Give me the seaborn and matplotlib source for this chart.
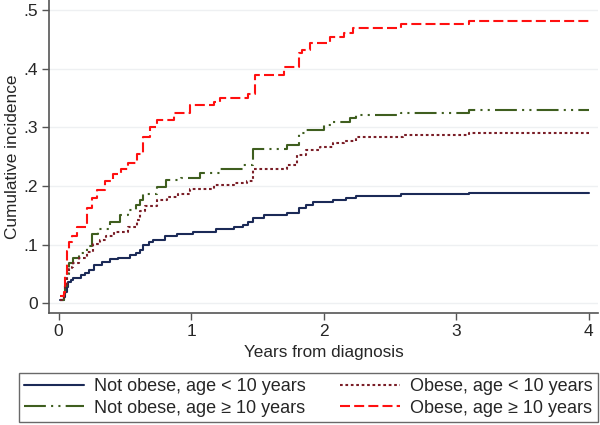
import pandas as pd
import matplotlib.pyplot as plt
import seaborn as sns

# Cumulative incidence step curves (time in years, value)
groups = ["Not obese, age < 10 years", "Not obese, age \u2265 10 years",
          "Obese, age < 10 years", "Obese, age \u2265 10 years"]

navy_t = [0.01, 0.04, 0.05, 0.06, 0.07, 0.09, 0.11, 0.17, 0.20, 0.23, 0.27, 0.33, 0.39, 0.45,
          0.54, 0.58, 0.61, 0.64, 0.68, 0.71, 0.80, 0.89, 1.01, 1.19, 1.32, 1.39, 1.43, 1.47,
          1.55, 1.72, 1.81, 1.87, 1.92, 2.07, 2.17, 2.24, 2.58, 3.10, 4.00]
navy_v = [0.005, 0.010, 0.020, 0.028, 0.036, 0.040, 0.043, 0.048, 0.052, 0.057, 0.065, 0.070, 0.075, 0.078,
          0.082, 0.086, 0.091, 0.099, 0.104, 0.108, 0.115, 0.119, 0.122, 0.127, 0.130, 0.134, 0.139, 0.145,
          0.150, 0.154, 0.162, 0.168, 0.172, 0.176, 0.180, 0.183, 0.186, 0.189, 0.189]

green_t = [0.01, 0.04, 0.05, 0.06, 0.08, 0.11, 0.15, 0.21, 0.25, 0.30, 0.39, 0.46, 0.52, 0.58,
           0.61, 0.64, 0.74, 0.81, 0.92, 1.07, 1.22, 1.39, 1.47, 1.72, 1.81, 1.87, 2.00, 2.07,
           2.20, 2.24, 2.58, 3.10, 4.00]
green_v = [0.005, 0.015, 0.030, 0.050, 0.068, 0.078, 0.086, 0.097, 0.118, 0.127, 0.139, 0.150, 0.160, 0.168,
           0.176, 0.187, 0.199, 0.210, 0.214, 0.222, 0.230, 0.236, 0.264, 0.270, 0.290, 0.296, 0.304, 0.310,
           0.317, 0.321, 0.325, 0.330, 0.330]

maroon_t = [0.01, 0.04, 0.05, 0.06, 0.08, 0.10, 0.11, 0.15, 0.21, 0.26, 0.31, 0.36, 0.42, 0.52,
            0.59, 0.61, 0.65, 0.74, 0.82, 0.90, 0.99, 1.17, 1.32, 1.42, 1.47, 1.72, 1.80, 1.87,
            1.97, 2.07, 2.15, 2.24, 2.60, 3.10, 4.00]
maroon_v = [0.005, 0.012, 0.030, 0.051, 0.058, 0.062, 0.069, 0.078, 0.088, 0.102, 0.108, 0.114, 0.122, 0.130,
            0.142, 0.157, 0.166, 0.176, 0.182, 0.187, 0.195, 0.202, 0.205, 0.208, 0.230, 0.236, 0.253, 0.262,
            0.267, 0.273, 0.277, 0.283, 0.287, 0.291, 0.291]

red_t = [0.01, 0.04, 0.05, 0.06, 0.08, 0.10, 0.14, 0.21, 0.25, 0.29, 0.35, 0.41, 0.47, 0.52,
         0.59, 0.64, 0.69, 0.74, 0.87, 0.99, 1.17, 1.22, 1.43, 1.48, 1.70, 1.81, 1.84, 1.90,
         2.05, 2.15, 2.22, 2.58, 3.10, 4.00]
red_v = [0.012, 0.020, 0.050, 0.090, 0.105, 0.115, 0.130, 0.162, 0.180, 0.193, 0.208, 0.220, 0.230, 0.239,
         0.255, 0.284, 0.300, 0.313, 0.325, 0.338, 0.344, 0.351, 0.358, 0.390, 0.404, 0.427, 0.433, 0.444,
         0.455, 0.461, 0.470, 0.476, 0.482, 0.482]

colors = ["#1b2a57", "#3f5e1f", "#7a1e27", "#ff1010"]
dash_styles = ["", (10.5, 2.5, 1, 2.5, 1, 2.5), (1.3, 1.3), (4.8, 2)]

df = pd.concat([
    pd.DataFrame({"t": navy_t, "v": navy_v, "group": groups[0]}),
    pd.DataFrame({"t": green_t, "v": green_v, "group": groups[1]}),
    pd.DataFrame({"t": maroon_t, "v": maroon_v, "group": groups[2]}),
    pd.DataFrame({"t": red_t, "v": red_v, "group": groups[3]}),
])

sns.set_style("white")
plt.rcParams['font.family'] = ['Liberation Sans', 'DejaVu Sans']

fig = plt.figure(figsize=(6, 4.25), dpi=100)
ax = fig.add_axes([49 / 600, 1 - 313 / 425, 549 / 600, 313 / 425])

sns.lineplot(data=df, x="t", y="v", hue="group", style="group",
             hue_order=groups, style_order=groups,
             palette=dict(zip(groups, colors)), dashes=dict(zip(groups, dash_styles)),
             drawstyle="steps-post", linewidth=1.5, legend=False, ax=ax)

ax.set_xlim(-0.073, 4.07)
ax.set_ylim(-0.0166, 0.5176)
ax.set_xticks([0, 1, 2, 3, 4])
ax.set_yticks([0, 0.1, 0.2, 0.3, 0.4, 0.5])
ax.set_yticklabels(["0", ".1", ".2", ".3", ".4", ".5"])
ax.yaxis.grid(True, color="#eef0f2", linewidth=1)
ax.xaxis.grid(False)
ax.tick_params(axis="both", which="major", labelsize=12.5, length=5, width=1,
               color="#555555", direction="out", left=True, bottom=True, pad=3)
for side in ["top", "right"]:
    ax.spines[side].set_visible(False)
for side in ["left", "bottom"]:
    ax.spines[side].set_color("#555555")
    ax.spines[side].set_linewidth(1.2)

ax.set_xlabel("Years from diagnosis", fontsize=12.3, labelpad=4)
ax.set_ylabel("Cumulative incidence", fontsize=12.4, labelpad=2)

handles = ax.get_lines()[:4]
leg = fig.legend(handles, groups, ncol=2, loc="lower left",
                 bbox_to_anchor=(19 / 600, 3 / 425, 579 / 600, 54 / 425), mode="expand",
                 fontsize=13, handlelength=3.3, handletextpad=0.55, labelspacing=0.25,
                 borderpad=0.3, fancybox=False, frameon=True, edgecolor="#444444",
                 borderaxespad=0)
leg.get_frame().set_linewidth(1.0)

plt.savefig("out.png", dpi=100)
